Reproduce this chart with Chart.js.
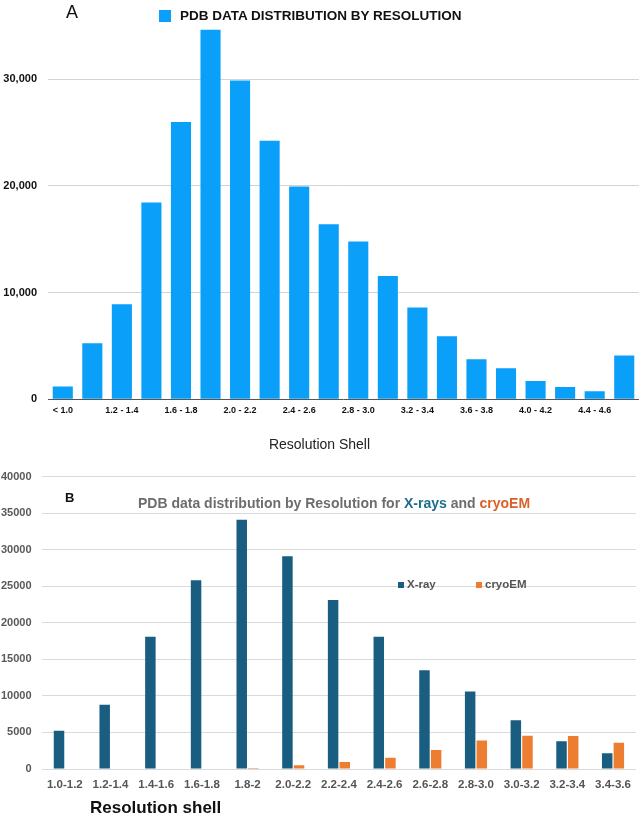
<!DOCTYPE html>
<html>
<head>
<meta charset="utf-8">
<script src="https://cdn.jsdelivr.net/npm/chart.js@4.4.1/dist/chart.umd.min.js"></script>
<style>
  body { margin: 0; background: #fff; }
  #page { position: relative; width: 640px; height: 818px; overflow: hidden; font-family: "Liberation Sans", Arial, sans-serif; }
  #chartA { position: absolute; left: 0; top: 0; }
  #chartB { position: absolute; left: 0; top: 458px; }
  .lbl { position: absolute; white-space: nowrap; line-height: 1; }
  .sw { position: absolute; }
</style>
</head>
<body>
<div id="page">
  <canvas id="chartA" width="640" height="458"></canvas>
  <canvas id="chartB" width="640" height="360"></canvas>

  <div class="lbl" style="left:66px;top:3px;font-size:18px;color:#111;">A</div>
  <div class="sw" style="left:159px;top:10px;width:12px;height:12px;background:#0a9ff8;"></div>
  <div class="lbl" style="left:180px;top:9px;font-size:13.5px;font-weight:bold;color:#111;">PDB DATA DISTRIBUTION BY RESOLUTION</div>

  <div class="lbl" style="left:65px;top:491px;font-size:13px;font-weight:bold;color:#111;">B</div>
  <div class="lbl" style="left:138px;top:496px;font-size:14px;font-weight:bold;color:#6d6d6d;">PDB data distribution by Resolution for <span style="color:#1c6d8c">X-rays</span> and <span style="color:#d9622b">cryoEM</span></div>
  <div class="sw" style="left:398px;top:582px;width:6px;height:6px;background:#195e80;"></div>
  <div class="lbl" style="left:407px;top:579px;font-size:11.5px;font-weight:bold;color:#555;">X-ray</div>
  <div class="sw" style="left:476px;top:582px;width:6px;height:6px;background:#ed7d31;"></div>
  <div class="lbl" style="left:485px;top:579px;font-size:11.5px;font-weight:bold;color:#555;">cryoEM</div>
  <div class="lbl" style="left:90px;top:799px;font-size:17px;font-weight:bold;color:#111;">Resolution shell</div>
</div>

<script>
  // ---- chart A : all PDB entries per resolution shell
  const shellsA = ['< 1.0', '1.0 - 1.2', '1.2 - 1.4', '1.4 - 1.6', '1.6 - 1.8', '1.8 - 2.0', '2.0 - 2.2',
                   '2.2 - 2.4', '2.4 - 2.6', '2.6 - 2.8', '2.8 - 3.0', '3.0 - 3.2', '3.2 - 3.4', '3.4 - 3.6',
                   '3.6 - 3.8', '3.8 - 4.0', '4.0 - 4.2', '4.2 - 4.4', '4.4 - 4.6', '> 4.6'];
  const countsA = [1200, 5250, 8900, 18450, 26000, 34650, 29900, 24250, 19950, 16400,
                   14800, 11550, 8600, 5900, 3750, 2900, 1700, 1150, 750, 4100];
  const ticksA  = [0, 10000, 20000, 30000];

  // ---- chart B : X-ray vs cryoEM
  const shellsB = ['1.0-1.2', '1.2-1.4', '1.4-1.6', '1.6-1.8', '1.8-2', '2.0-2.2', '2.2-2.4',
                   '2.4-2.6', '2.6-2.8', '2.8-3.0', '3.0-3.2', '3.2-3.4', '3.4-3.6'];
  const xray    = [5230, 8800, 18100, 25800, 34100, 29100, 23100, 18100, 13500, 10600, 6650, 3780, 2150];
  const cryoem  = [0, 0, 0, 0, 150, 500, 950, 1550, 2600, 3900, 4550, 4500, 3600];

  const FONT = '"Liberation Sans", Arial, sans-serif';

  /**======================================================================================
   *                              function drawChartA()
   ======================================================================================*/
  function drawChartA()
  {
      new Chart(document.getElementById('chartA'), {
          type: 'bar',
          data: {
              labels: shellsA,
              datasets: [{
                  label: 'PDB DATA DISTRIBUTION BY RESOLUTION',
                  data: countsA,
                  backgroundColor: '#0a9ff8',
                  barPercentage: 0.68,
                  categoryPercentage: 1
              }]
          },
          options: {
              responsive: false,
              animation: false,
              layout: { padding: { top: 26, right: 1, left: 0, bottom: 2 } },
              plugins: {
                  legend: { display: false },
                  tooltip: { enabled: false },
                  title: {
                      display: true,
                      position: 'bottom',
                      text: 'Resolution Shell',
                      color: '#222',
                      font: { family: FONT, size: 14, weight: 'normal' },
                      padding: { top: 18, bottom: 2 }
                  }
              },
              scales: {
                  x: {
                      grid: { display: false, drawTicks: false },
                      border: { display: false },
                      ticks: {
                          autoSkip: false, maxRotation: 0, padding: 6, color: '#111',
                          font: { family: FONT, size: 9, weight: 'bold' },
                          callback: function(v, i) { return i % 2 === 0 ? shellsA[i] : ''; }
                      },
                      afterFit: function(axis) { axis.height = 20; }
                  },
                  y: {
                      min: 0, max: 35000,
                      afterBuildTicks: function(axis) { axis.ticks = ticksA.map(v => ({ value: v })); },
                      grid: {
                          drawTicks: false,
                          color: function(c) { return c.tick.value === 0 ? '#555' : '#d3d3d3'; }
                      },
                      border: { display: false },
                      ticks: {
                          padding: 11, color: '#111',
                          font: { family: FONT, size: 11, weight: 'bold' },
                          callback: function(v) { return v.toLocaleString('en-US'); }
                      },
                      afterFit: function(axis) { axis.width = 48; }
                  }
              }
          }
      });
  }

  /**======================================================================================
   *                              function drawChartB()
   ======================================================================================*/
  function drawChartB()
  {
      new Chart(document.getElementById('chartB'), {
          type: 'bar',
          data: {
              labels: shellsB,
              datasets: [
                  { label: 'X-ray',  data: xray,   backgroundColor: '#195e80', barPercentage: 0.9, categoryPercentage: 0.51 },
                  { label: 'cryoEM', data: cryoem, backgroundColor: '#ed7d31', barPercentage: 0.9, categoryPercentage: 0.51 }
              ]
          },
          options: {
              responsive: false,
              animation: false,
              layout: { padding: { top: 18.5, right: 2, left: 0, bottom: 0 } },
              plugins: {
                  legend: { display: false },
                  tooltip: { enabled: false }
              },
              scales: {
                  x: {
                      grid: { display: false, drawTicks: false },
                      border: { display: false },
                      ticks: {
                          autoSkip: false, maxRotation: 0, padding: 9, color: '#555',
                          font: { family: FONT, size: 11.5, weight: 'bold' }
                      },
                      afterFit: function(axis) { axis.height = 49; }
                  },
                  y: {
                      min: 0, max: 40000,
                      grid: { drawTicks: false, color: '#dadada' },
                      border: { display: false },
                      ticks: {
                          stepSize: 5000, padding: 10.5, color: '#595959',
                          font: { family: FONT, size: 11, weight: 'bold' },
                          callback: function(v) { return String(v); }
                      },
                      afterFit: function(axis) { axis.width = 42; }
                  }
              }
          }
      });
  }

  drawChartA();
  drawChartB();
</script>
</body>
</html>
